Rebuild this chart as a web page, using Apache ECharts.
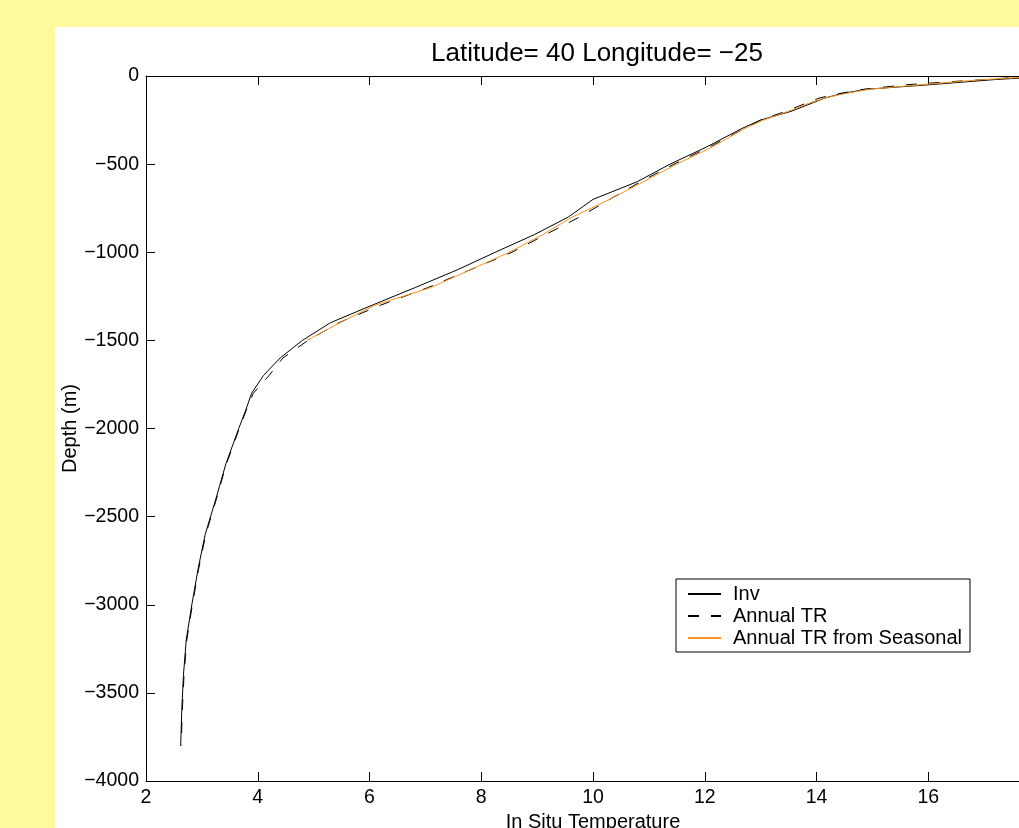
<!DOCTYPE html>
<html>
<head>
<meta charset="utf-8">
<title>Latitude= 40 Longitude= -25</title>
<script src="https://cdn.jsdelivr.net/npm/echarts@6/dist/echarts.min.js"></script>
<style>
  html, body { margin: 0; padding: 0; width: 1019px; height: 828px; overflow: hidden; background: #fff99d; }
  #chart { position: absolute; left: 55px; top: 27px; width: 1084px; height: 820px; background: #fff; }
</style>
</head>
<body>
<div id="chart"></div>
<script>
// depth levels (m)
var depthInv = [0, -10, -20, -30, -50, -75, -100, -125, -150, -200, -250, -300, -400, -500, -600, -700, -800, -900, -1000,
  -1100, -1200, -1300, -1400, -1500, -1600, -1700, -1800, -1900, -2000, -2200, -2400, -2600, -2800, -3000, -3200, -3400, -3600, -3800];
// Inv temperature
var tempInv = [18.0, 17.75, 17.2, 16.8, 16.0, 14.9, 14.45, 14.15, 13.95, 13.55, 13.0, 12.65, 12.05, 11.38, 10.79, 10.0, 9.56, 8.95, 8.25,
  7.57, 6.82, 6.05, 5.30, 4.80, 4.40, 4.10, 3.89, 3.78, 3.66, 3.43, 3.25, 3.06, 2.93, 2.82, 2.72, 2.67, 2.64, 2.62];
// Annual TR
var tempAnn = [17.85, 17.45, 17.05, 16.5, 15.6, 14.85, 14.4, 14.05, 13.85, 13.45, 13.0, 12.7, 12.1, 11.45, 10.85, 10.3, 9.76, 9.15, 8.55,
  7.8, 7.05, 6.2, 5.45, 4.9, 4.45, 4.2, 3.92, 3.79, 3.67, 3.44, 3.26, 3.07, 2.94, 2.83, 2.73, 2.68, 2.65, 2.63];
// Annual TR from Seasonal (0 - 1500 m)
var depthSea = [0, -10, -20, -30, -50, -75, -100, -125, -150, -200, -250, -300, -400, -500, -600, -700, -800, -900, -1000,
  -1100, -1200, -1300, -1400, -1500];
var tempSea = [18.0, 17.55, 17.0, 16.6, 15.85, 14.95, 14.5, 14.15, 13.9, 13.5, 13.05, 12.7, 12.15, 11.5, 10.9, 10.3, 9.63, 9.1, 8.5,
  7.8, 7.1, 6.1, 5.47, 4.88];

var seriesNames = ['Inv', 'Annual TR', 'Annual TR from Seasonal'];

function pairs(t, d) {
  var out = [];
  for (var i = 0; i < t.length; i++) out.push([t[i], d[i]]);
  return out;
}

var font = '"Liberation Sans", Helvetica, Arial, sans-serif';
var myChart = echarts.init(document.getElementById('chart'));

var option = {
  animation: false,
  backgroundColor: '#fff',
  textStyle: { fontFamily: font },
  title: {
    text: 'Latitude= 40 Longitude= \u221225',
    left: 'center',
    top: 9,
    textStyle: { fontFamily: font, fontSize: 26, fontWeight: 'normal', color: '#000' }
  },
  legend: {
    data: seriesNames,
    orient: 'vertical',
    left: 621,
    top: 552,
    align: 'left',
    borderColor: '#000',
    borderWidth: 1,
    borderRadius: 0,
    padding: [5, 8, 4, 11],
    itemWidth: 33,
    itemHeight: 14,
    itemGap: 2,
    itemStyle: { opacity: 0 },
    textStyle: { fontFamily: font, fontSize: 20, lineHeight: 20, color: '#000', padding: [0, 0, 0, 7] }
  },
  grid: { left: 91, top: 49, width: 894, height: 705, outerBoundsMode: 'none', containLabel: false },
  xAxis: [{
    type: 'value',
    position: 'bottom',
    min: 2, max: 18, interval: 2,
    name: 'In Situ Temperature',
    nameLocation: 'middle',
    nameGap: 31,
    nameMoveOverlap: false,
    nameTextStyle: { fontFamily: font, fontSize: 20, color: '#000' },
    axisLine: { onZero: false, lineStyle: { color: '#000', width: 1 } },
    axisTick: { inside: true, length: 9, lineStyle: { color: '#000' } },
    axisLabel: { fontFamily: font, fontSize: 19.5, color: '#000', margin: 7 },
    splitLine: { show: false }
  }, {
    type: 'value',
    position: 'top',
    min: 2, max: 18, interval: 2,
    axisLine: { onZero: false, lineStyle: { color: '#000', width: 1 } },
    axisTick: { inside: true, length: 9, lineStyle: { color: '#000' } },
    axisLabel: { show: false },
    splitLine: { show: false }
  }],
  yAxis: {
    type: 'value',
    position: 'left',
    min: -4000, max: 0, interval: 500,
    name: 'Depth (m)',
    nameLocation: 'middle',
    nameGap: 66,
    nameMoveOverlap: false,
    nameTextStyle: { fontFamily: font, fontSize: 20, color: '#000' },
    axisLine: { show: true, onZero: false, lineStyle: { color: '#000', width: 1 } },
    axisTick: { show: true, inside: true, length: 9, lineStyle: { color: '#000' } },
    axisLabel: {
      fontFamily: font, fontSize: 19.5, color: '#000', margin: 7,
      formatter: function (v) { return String(v).replace('-', '\u2212'); }
    },
    splitLine: { show: false }
  },
  series: [{
    name: seriesNames[0],
    type: 'line',
    data: pairs(tempInv, depthInv),
    showSymbol: false, symbol: 'none',
    lineStyle: { color: '#000', width: 1 },
    itemStyle: { color: '#000' }
  }, {
    name: seriesNames[1],
    type: 'line',
    data: pairs(tempAnn, depthInv),
    showSymbol: false, symbol: 'none',
    lineStyle: { color: '#000', width: 1, type: [11, 12] },
    itemStyle: { color: '#000' }
  }, {
    name: seriesNames[2],
    type: 'line',
    data: pairs(tempSea, depthSea),
    showSymbol: false, symbol: 'none',
    lineStyle: { color: '#f7931e', width: 1 },
    itemStyle: { color: '#f7931e' }
  }]
};

myChart.setOption(option);
</script>
</body>
</html>
